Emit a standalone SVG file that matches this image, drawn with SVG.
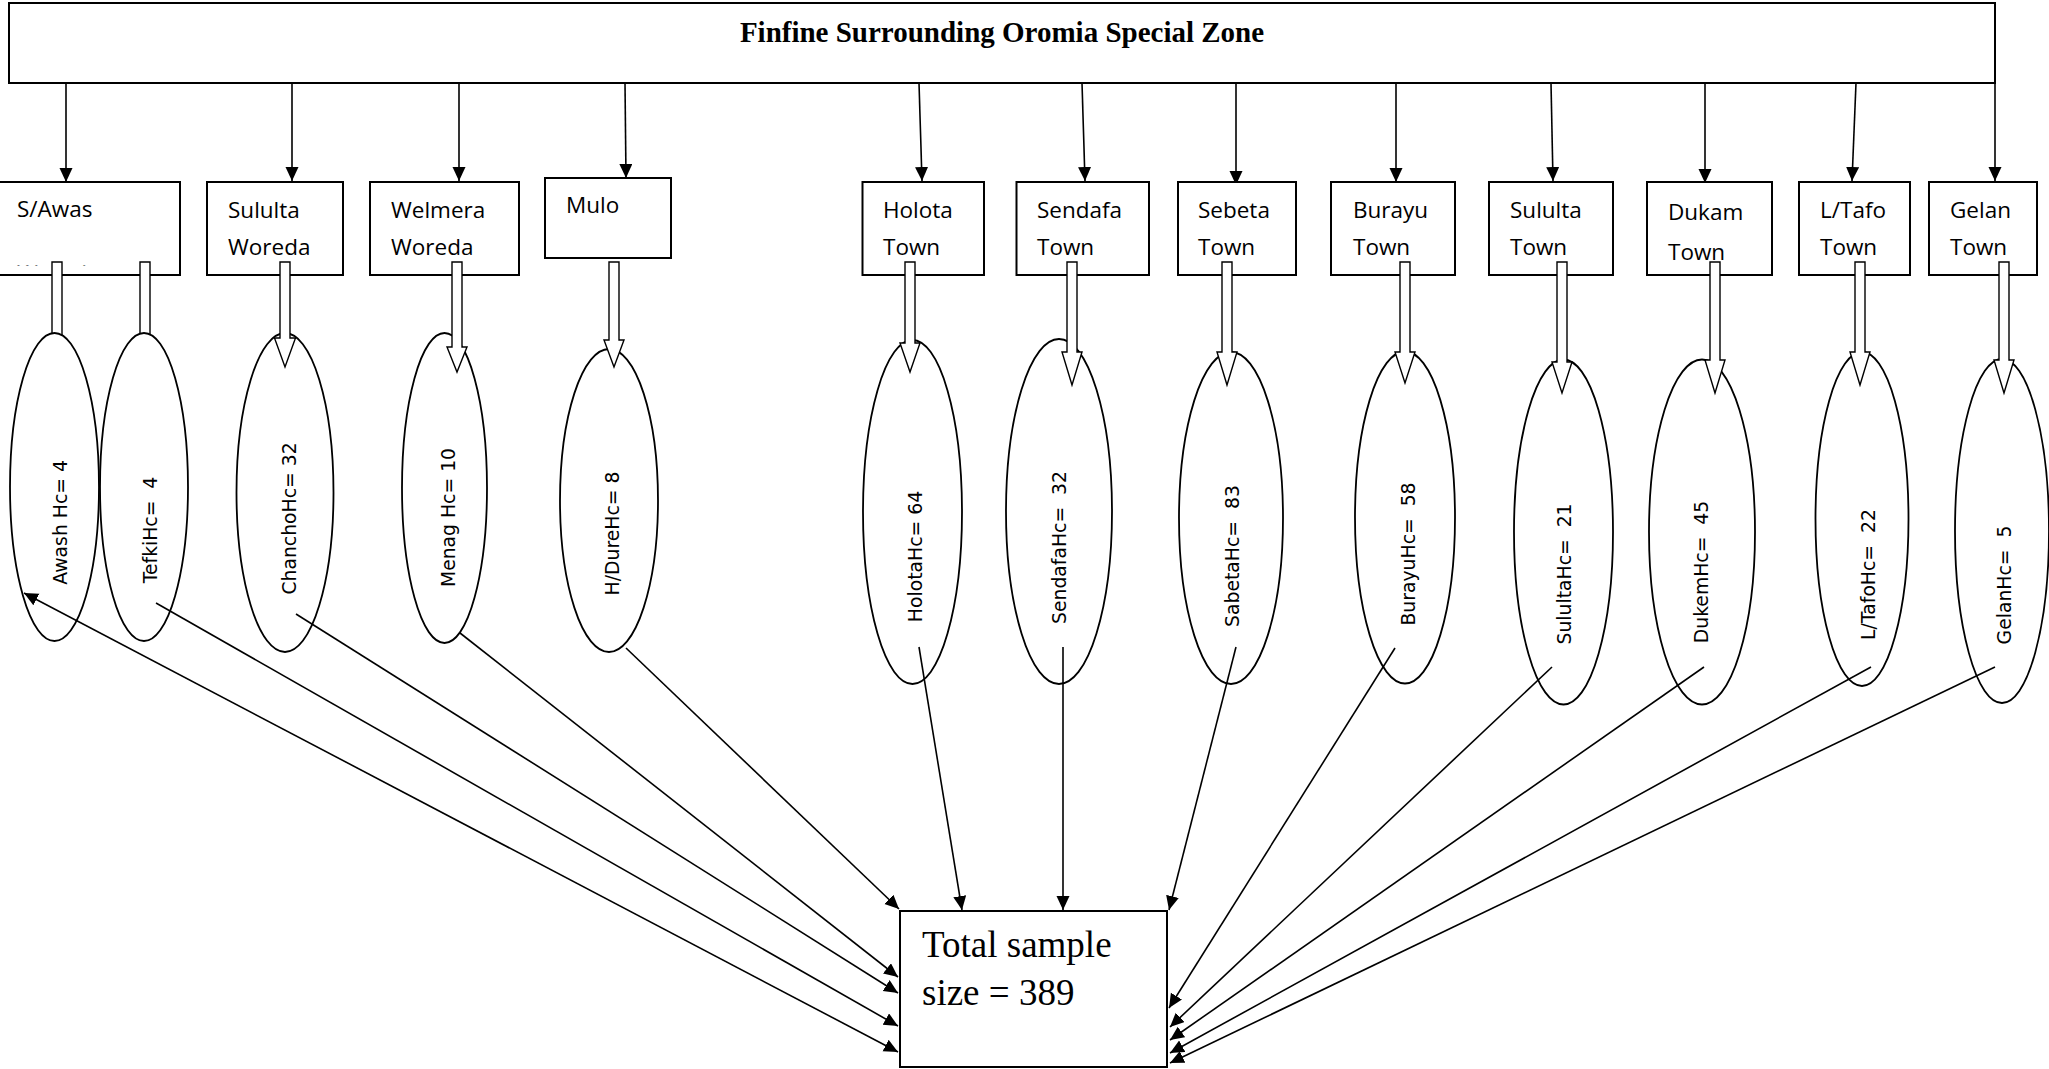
<svg xmlns="http://www.w3.org/2000/svg" width="2049" height="1069" viewBox="0 0 2049 1069">
<style>
.box{fill:#fff;stroke:#000;stroke-width:2}
.ell{fill:#fff;stroke:#000;stroke-width:1.8}
.blk{fill:#fff;stroke:#000;stroke-width:1.4;stroke-linejoin:miter}
.lbl{font-family:"Open Sans","Liberation Sans",sans-serif;font-size:22.5px;fill:#000}
.vt{font-family:"DejaVu Sans",sans-serif;font-size:18.8px;fill:#000;text-anchor:middle;white-space:pre}
.con line{stroke:#000;stroke-width:1.6;marker-end:url(#ah)}
</style>
<defs>
<marker id="ah" markerUnits="userSpaceOnUse" markerWidth="15" markerHeight="14" refX="14" refY="6.5" orient="auto"><path d="M0,0 L14,6.5 L0,13 Z" fill="#000"/></marker>
<marker id="as" markerUnits="userSpaceOnUse" markerWidth="15" markerHeight="14" refX="14" refY="6.5" orient="auto-start-reverse"><path d="M0,0 L14,6.5 L0,13 Z" fill="#000"/></marker>
<clipPath id="clipSA"><rect x="0" y="182" width="180" height="83.5"/></clipPath>
</defs>
<rect width="2049" height="1069" fill="#fff"/>

<g id="zone">
<rect class="box" x="9" y="3" width="1986" height="80"/>
<text x="1002" y="42" text-anchor="middle" font-family="'Liberation Serif',serif" font-weight="bold" font-size="29">Finfine Surrounding Oromia Special Zone</text>
</g>

<g id="top-connectors" class="con">
<line x1="66" y1="83" x2="66" y2="182"/>
<line x1="292" y1="83" x2="292" y2="181"/>
<line x1="459" y1="83" x2="459" y2="181"/>
<line x1="625" y1="83" x2="626" y2="178"/>
<line x1="919" y1="83" x2="922" y2="181"/>
<line x1="1082" y1="83" x2="1085" y2="181"/>
<line x1="1236" y1="83" x2="1236" y2="185"/>
<line x1="1396" y1="83" x2="1396" y2="182"/>
<line x1="1551" y1="83" x2="1553" y2="181"/>
<line x1="1705" y1="83" x2="1705" y2="183"/>
<line x1="1856" y1="83" x2="1852" y2="181"/>
<line x1="1995" y1="83" x2="1995" y2="181"/>
</g>

<g id="saw">
<rect class="box" x="-2" y="182" width="182" height="93"/>
<text class="lbl" x="17" y="217">S/Awas</text>
<text class="lbl" x="17" y="280.5" clip-path="url(#clipSA)">Woreda</text>
</g>
<g id="sululta-woreda">
<rect class="box" x="207" y="182" width="136" height="93"/>
<text class="lbl" x="228" y="218">Sululta</text>
<text class="lbl" x="228" y="255">Woreda</text>
</g>
<g id="welmera-woreda">
<rect class="box" x="370" y="182" width="149" height="93"/>
<text class="lbl" x="391" y="218">Welmera</text>
<text class="lbl" x="391" y="255">Woreda</text>
</g>
<g id="mulo">
<rect class="box" x="545" y="178" width="126" height="80"/>
<text class="lbl" x="566" y="213">Mulo</text>
</g>
<g id="holota-town">
<rect class="box" x="862.5" y="182" width="121.5" height="93"/>
<text class="lbl" x="883" y="218">Holota</text>
<text class="lbl" x="883" y="255">Town</text>
</g>
<g id="sendafa-town">
<rect class="box" x="1016.5" y="182" width="132.5" height="93"/>
<text class="lbl" x="1037" y="218">Sendafa</text>
<text class="lbl" x="1037" y="255">Town</text>
</g>
<g id="sebeta-town">
<rect class="box" x="1178" y="182" width="118" height="93"/>
<text class="lbl" x="1198" y="218">Sebeta</text>
<text class="lbl" x="1198" y="255">Town</text>
</g>
<g id="burayu-town">
<rect class="box" x="1331" y="182" width="124" height="93"/>
<text class="lbl" x="1353" y="218">Burayu</text>
<text class="lbl" x="1353" y="255">Town</text>
</g>
<g id="sululta-town">
<rect class="box" x="1489" y="182" width="124" height="93"/>
<text class="lbl" x="1510" y="218">Sululta</text>
<text class="lbl" x="1510" y="255">Town</text>
</g>
<g id="dukam-town">
<rect class="box" x="1647" y="182" width="125" height="93"/>
<text class="lbl" x="1668" y="220">Dukam</text>
<text class="lbl" x="1668" y="260" font-size="24.5">Town</text>
</g>
<g id="ltafo-town">
<rect class="box" x="1799" y="182" width="111" height="93"/>
<text class="lbl" x="1820" y="218">L/Tafo</text>
<text class="lbl" x="1820" y="255">Town</text>
</g>
<g id="gelan-town">
<rect class="box" x="1929" y="182" width="108" height="93"/>
<text class="lbl" x="1950" y="218">Gelan</text>
<text class="lbl" x="1950" y="255">Town</text>
</g>

<g id="block-arrows-back">
<path class="blk" d="M52,262 H62 V340 H67 L57,370 L47,340 H52 Z"/>
<path class="blk" d="M140,262 H150 V340 H155 L145,370 L135,340 H140 Z"/>
</g>

<g id="awash-hc">
<ellipse class="ell" cx="54.5" cy="487" rx="44.5" ry="154"/>
<text class="vt" transform="translate(67,522.5) rotate(-90)">Awash Hc= 4</text>
</g>
<g id="tefki-hc">
<ellipse class="ell" cx="144" cy="487" rx="44" ry="154"/>
<text class="vt" transform="translate(157,530) rotate(-90)">TefkiHc=  4</text>
</g>
<g id="chancho-hc">
<ellipse class="ell" cx="285" cy="492.5" rx="48.5" ry="159.5"/>
<text class="vt" transform="translate(295.5,518.5) rotate(-90)">ChanchoHc= 32</text>
</g>
<g id="menag-hc">
<ellipse class="ell" cx="444.5" cy="488" rx="42.5" ry="155"/>
<text class="vt" transform="translate(455,517.5) rotate(-90)">Menag Hc= 10</text>
</g>
<g id="hdure-hc">
<ellipse class="ell" cx="609" cy="500.5" rx="49" ry="151.5"/>
<text class="vt" transform="translate(619,533.5) rotate(-90)">H/DureHc= 8</text>
</g>
<g id="holota-hc">
<ellipse class="ell" cx="912.5" cy="512" rx="49.5" ry="172"/>
<text class="vt" transform="translate(922,556.5) rotate(-90)">HolotaHc= 64</text>
</g>
<g id="sendafa-hc">
<ellipse class="ell" cx="1059" cy="511.5" rx="53" ry="172.5"/>
<text class="vt" transform="translate(1066,547.5) rotate(-90)">SendafaHc=  32</text>
</g>
<g id="sabeta-hc">
<ellipse class="ell" cx="1231" cy="518" rx="52" ry="166"/>
<text class="vt" transform="translate(1239,556) rotate(-90)">SabetaHc=  83</text>
</g>
<g id="burayu-hc">
<ellipse class="ell" cx="1405" cy="517.5" rx="50" ry="166"/>
<text class="vt" transform="translate(1415,554) rotate(-90)">BurayuHc=  58</text>
</g>
<g id="sululta-hc">
<ellipse class="ell" cx="1563.5" cy="532" rx="49.5" ry="172.5"/>
<text class="vt" transform="translate(1570.5,574) rotate(-90)">SulultaHc=  21</text>
</g>
<g id="dukem-hc">
<ellipse class="ell" cx="1702" cy="532" rx="53" ry="172.5"/>
<text class="vt" transform="translate(1708,572) rotate(-90)">DukemHc=  45</text>
</g>
<g id="ltafo-hc">
<ellipse class="ell" cx="1862" cy="519" rx="46.5" ry="167"/>
<text class="vt" transform="translate(1875,574.5) rotate(-90)">L/TafoHc=  22</text>
</g>
<g id="gelan-hc">
<ellipse class="ell" cx="2002" cy="531" rx="47" ry="172"/>
<text class="vt" transform="translate(2011,585) rotate(-90)">GelanHc=  5</text>
</g>

<g id="block-arrows">
<path class="blk" d="M280,262 H290 V338 H295.5 L285,367 L274.5,338 H280 Z"/>
<path class="blk" d="M452,262 H462 V347 H467 L457,372 L447,347 H452 Z"/>
<path class="blk" d="M609,262 H619 V340 H624 L614,367 L604,340 H609 Z"/>
<path class="blk" d="M905,262 H915 V343 H920 L910,372 L900,343 H905 Z"/>
<path class="blk" d="M1067,262 H1077 V352 H1082 L1072,385 L1062,352 H1067 Z"/>
<path class="blk" d="M1222,262 H1232 V352 H1237 L1227,385 L1217,352 H1222 Z"/>
<path class="blk" d="M1400,262 H1410 V352 H1415 L1405,383 L1395,352 H1400 Z"/>
<path class="blk" d="M1557,262 H1567 V362 H1572 L1562,393 L1552,362 H1557 Z"/>
<path class="blk" d="M1710,262 H1720 V360 H1725 L1715,393 L1705,360 H1710 Z"/>
<path class="blk" d="M1855,262 H1865 V352 H1870 L1860,385 L1850,352 H1855 Z"/>
<path class="blk" d="M1999,262 H2009 V360 H2014 L2004,393 L1994,360 H1999 Z"/>
</g>

<g id="total">
<rect class="box" x="900" y="911" width="267" height="156"/>
<text x="922" y="957" font-family="'Liberation Serif',serif" font-size="37">Total sample</text>
<text x="922" y="1005" font-family="'Liberation Serif',serif" font-size="37">size = 389</text>
</g>

<g id="connectors" class="con">
<line x1="24" y1="593" x2="898" y2="1052" marker-start="url(#as)"/>
<line x1="156" y1="603" x2="898" y2="1026"/>
<line x1="296" y1="614" x2="898" y2="993"/>
<line x1="460" y1="633" x2="898" y2="977"/>
<line x1="626" y1="648" x2="899" y2="909"/>
<line x1="919" y1="647" x2="962" y2="910"/>
<line x1="1063" y1="647" x2="1063" y2="910"/>
<line x1="1236" y1="647" x2="1169" y2="910"/>
<line x1="1395" y1="648" x2="1169" y2="1008"/>
<line x1="1552" y1="667" x2="1170" y2="1027"/>
<line x1="1704" y1="667" x2="1170" y2="1040"/>
<line x1="1871" y1="667" x2="1170" y2="1053"/>
<line x1="1995" y1="667" x2="1170" y2="1063"/>
</g>
</svg>
